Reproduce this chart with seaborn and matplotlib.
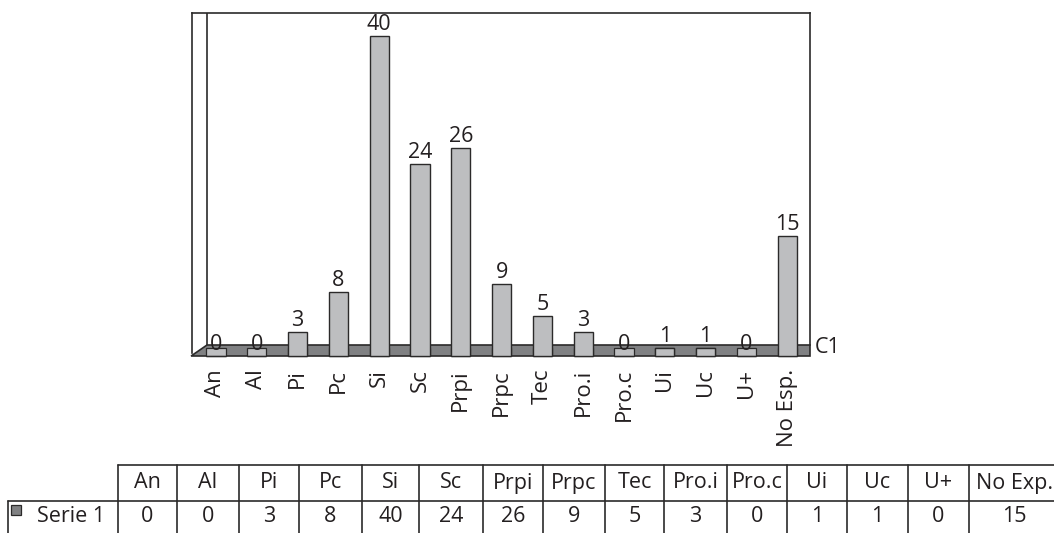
import matplotlib
matplotlib.use("Agg")
import matplotlib.pyplot as plt
from matplotlib.patches import Polygon, Rectangle
import seaborn as sns
import pandas as pd

# Chart data
categories = ["An", "Al", "Pi", "Pc", "Si", "Sc", "Prpi", "Prpc", "Tec",
              "Pro.i", "Pro.c", "Ui", "Uc", "U+", "No Esp."]
table_headers = ["An", "Al", "Pi", "Pc", "Si", "Sc", "Prpi", "Prpc", "Tec",
                 "Pro.i", "Pro.c", "Ui", "Uc", "U+", "No Exp."]
values = [0, 0, 3, 8, 40, 24, 26, 9, 5, 3, 0, 1, 1, 0, 15]
series_name = "Serie 1"
floor_label = "C1"

# Colours
BAR = "#bdbec0"
FLOOR = "#808183"
EDGE = "#2b2a2a"
TXT = "#231f20"

sns.set_style("white")
plt.rcParams["font.family"] = ["Open Sans", "DejaVu Sans"]
FS = 15.5
FS_TICK = 16

W, H = 1054, 533
fig = plt.figure(figsize=(W / 100, H / 100), dpi=100)


def px_box(x0, y0, x1, y1):
    return [x0 / W, 1 - y1 / H, (x1 - x0) / W, (y1 - y0) / H]


ax = fig.add_axes(px_box(192, 13, 810, 362))
df = pd.DataFrame({"cat": categories, "val": values})
sns.barplot(data=df, x="cat", y="val", color=BAR, saturation=1, width=0.47,
            edgecolor=EDGE, linewidth=1.0, errorbar=None, ax=ax, zorder=4)

XMIN, XMAX = -0.588, 14.56
YMIN, YMAX = -0.75, 42.875
ax.set_xlim(XMIN, XMAX)
ax.set_ylim(YMIN, YMAX)

# Floor of the pseudo-3D plot
depth = 1.375
floor = Polygon([(-0.61, 0), (-0.22, depth), (XMAX, depth), (XMAX, 0)],
                closed=True, facecolor=FLOOR, edgecolor=EDGE, linewidth=1.2,
                zorder=2.6, clip_on=False)
ax.add_patch(floor)

# Footprint of each bar on the floor
bars = list(ax.containers[0])
for b in bars:
    ax.add_patch(Rectangle((b.get_x(), 0), b.get_width(), 1.0,
                           facecolor=BAR, edgecolor=EDGE, linewidth=0.9,
                           zorder=2.8))

labels = ax.bar_label(ax.containers[0], padding=1, fontsize=FS, color=TXT)
for t in labels:
    t.set_zorder(6)

# Back wall frame
for side in ["top", "left", "right"]:
    ax.spines[side].set_visible(True)
    ax.spines[side].set_color(EDGE)
    ax.spines[side].set_linewidth(1.2)
ax.spines["bottom"].set_visible(False)
ax.spines["left"].set_bounds(0.4, YMAX)
ax.spines["right"].set_bounds(depth, YMAX)
ax.plot([-0.22, -0.22], [depth, YMAX], color=EDGE, linewidth=1.2, zorder=2.5)

ax.set_xlabel("")
ax.set_ylabel("")
ax.set_yticks([])
ax.tick_params(axis="x", length=0, pad=5, labelsize=FS_TICK, labelcolor=TXT,
               rotation=90)

ax.text(XMAX + 0.12, 1.1, floor_label, ha="left", va="center", fontsize=FS,
        color=TXT, clip_on=False)

# Data table underneath
tax = fig.add_axes([0, 0, 1, 1])
tax.set_xlim(0, W)
tax.set_ylim(H, 0)
tax.axis("off")
tax.patch.set_visible(False)

col_edges = [118, 177, 239, 299, 362, 419, 483, 543, 605, 664, 727, 787,
             847, 908, 969, 1060]
row_top, row_mid, row_bot = 465, 501, 533
lw = 1.2
tax.plot([col_edges[0], W], [row_top, row_top], color=EDGE, linewidth=lw)
tax.plot([8, W], [row_mid, row_mid], color=EDGE, linewidth=lw)
tax.plot([8, 8], [row_mid, row_bot], color=EDGE, linewidth=lw)
for e in col_edges[:-1]:
    tax.plot([e, e], [row_top, row_bot], color=EDGE, linewidth=lw)

for i, (hdr, v) in enumerate(zip(table_headers, values)):
    cx = (col_edges[i] + col_edges[i + 1]) / 2
    tax.text(cx, (row_top + row_mid) / 2, hdr, ha="center", va="center",
             fontsize=FS, color=TXT)
    tax.text(cx, (row_mid + row_bot) / 2, str(v), ha="center",
             va="center", fontsize=FS, color=TXT)

tax.add_patch(Rectangle((11, 505), 10, 10, facecolor=FLOOR, edgecolor=EDGE,
                        linewidth=0.9))
tax.text(37, (row_mid + row_bot) / 2, series_name, ha="left",
         va="center", fontsize=FS, color=TXT)

fig.savefig("out.png", dpi=100)
